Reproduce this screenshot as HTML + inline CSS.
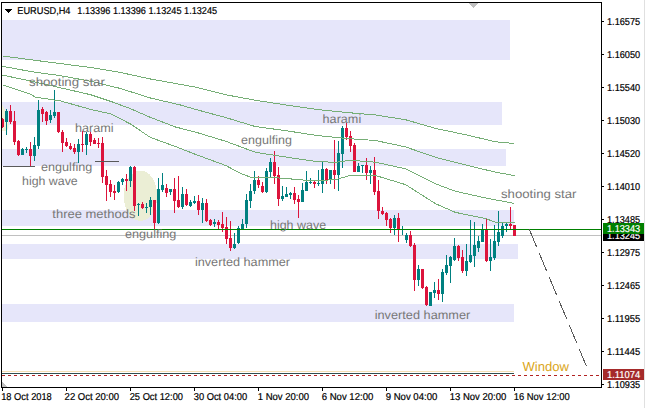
<!DOCTYPE html>
<html><head><meta charset="utf-8"><style>
html,body{margin:0;padding:0;background:#fff;width:645px;height:408px;overflow:hidden}
svg{display:block}
text{font-family:"Liberation Sans",sans-serif;white-space:pre;text-rendering:geometricPrecision}
</style></head><body>
<svg width="645" height="408" viewBox="0 0 645 408" shape-rendering="crispEdges">
<rect x="2" y="20" width="508" height="40" fill="#E6E6FA" />
<rect x="2" y="102" width="500" height="23" fill="#E6E6FA" />
<rect x="2" y="149" width="504" height="17" fill="#E6E6FA" />
<rect x="2" y="210" width="512" height="16" fill="#E6E6FA" />
<rect x="2" y="244" width="516" height="15" fill="#E6E6FA" />
<rect x="2" y="304" width="512" height="18" fill="#E6E6FA" />
<ellipse cx="140.5" cy="195.7" rx="16.8" ry="25.2" fill="#EBEED5"/>
<path d="M2,104.5 Q7,112 8.5,122 Q9.5,129 6,131 L2,131 Z" fill="#F2F2D6" shape-rendering="auto"/>
<rect x="2" y="235" width="599" height="1" fill="#C0C0C0" />
<rect x="2" y="371" width="512" height="1" fill="#F5DEB3" />
<rect x="2" y="373" width="512" height="1" fill="#2F4F4F" />
<rect x="2" y="375" width="3" height="1" fill="#B22222" />
<rect x="8" y="375" width="3" height="1" fill="#B22222" />
<rect x="14" y="375" width="3" height="1" fill="#B22222" />
<rect x="20" y="375" width="3" height="1" fill="#B22222" />
<rect x="26" y="375" width="3" height="1" fill="#B22222" />
<rect x="32" y="375" width="3" height="1" fill="#B22222" />
<rect x="38" y="375" width="3" height="1" fill="#B22222" />
<rect x="44" y="375" width="3" height="1" fill="#B22222" />
<rect x="50" y="375" width="3" height="1" fill="#B22222" />
<rect x="56" y="375" width="3" height="1" fill="#B22222" />
<rect x="62" y="375" width="3" height="1" fill="#B22222" />
<rect x="68" y="375" width="3" height="1" fill="#B22222" />
<rect x="74" y="375" width="3" height="1" fill="#B22222" />
<rect x="80" y="375" width="3" height="1" fill="#B22222" />
<rect x="86" y="375" width="3" height="1" fill="#B22222" />
<rect x="92" y="375" width="3" height="1" fill="#B22222" />
<rect x="98" y="375" width="3" height="1" fill="#B22222" />
<rect x="104" y="375" width="3" height="1" fill="#B22222" />
<rect x="110" y="375" width="3" height="1" fill="#B22222" />
<rect x="116" y="375" width="3" height="1" fill="#B22222" />
<rect x="122" y="375" width="3" height="1" fill="#B22222" />
<rect x="128" y="375" width="3" height="1" fill="#B22222" />
<rect x="134" y="375" width="3" height="1" fill="#B22222" />
<rect x="140" y="375" width="3" height="1" fill="#B22222" />
<rect x="146" y="375" width="3" height="1" fill="#B22222" />
<rect x="152" y="375" width="3" height="1" fill="#B22222" />
<rect x="158" y="375" width="3" height="1" fill="#B22222" />
<rect x="164" y="375" width="3" height="1" fill="#B22222" />
<rect x="170" y="375" width="3" height="1" fill="#B22222" />
<rect x="176" y="375" width="3" height="1" fill="#B22222" />
<rect x="182" y="375" width="3" height="1" fill="#B22222" />
<rect x="188" y="375" width="3" height="1" fill="#B22222" />
<rect x="194" y="375" width="3" height="1" fill="#B22222" />
<rect x="200" y="375" width="3" height="1" fill="#B22222" />
<rect x="206" y="375" width="3" height="1" fill="#B22222" />
<rect x="212" y="375" width="3" height="1" fill="#B22222" />
<rect x="218" y="375" width="3" height="1" fill="#B22222" />
<rect x="224" y="375" width="3" height="1" fill="#B22222" />
<rect x="230" y="375" width="3" height="1" fill="#B22222" />
<rect x="236" y="375" width="3" height="1" fill="#B22222" />
<rect x="242" y="375" width="3" height="1" fill="#B22222" />
<rect x="248" y="375" width="3" height="1" fill="#B22222" />
<rect x="254" y="375" width="3" height="1" fill="#B22222" />
<rect x="260" y="375" width="3" height="1" fill="#B22222" />
<rect x="266" y="375" width="3" height="1" fill="#B22222" />
<rect x="272" y="375" width="3" height="1" fill="#B22222" />
<rect x="278" y="375" width="3" height="1" fill="#B22222" />
<rect x="284" y="375" width="3" height="1" fill="#B22222" />
<rect x="290" y="375" width="3" height="1" fill="#B22222" />
<rect x="296" y="375" width="3" height="1" fill="#B22222" />
<rect x="302" y="375" width="3" height="1" fill="#B22222" />
<rect x="308" y="375" width="3" height="1" fill="#B22222" />
<rect x="314" y="375" width="3" height="1" fill="#B22222" />
<rect x="320" y="375" width="3" height="1" fill="#B22222" />
<rect x="326" y="375" width="3" height="1" fill="#B22222" />
<rect x="332" y="375" width="3" height="1" fill="#B22222" />
<rect x="338" y="375" width="3" height="1" fill="#B22222" />
<rect x="344" y="375" width="3" height="1" fill="#B22222" />
<rect x="350" y="375" width="3" height="1" fill="#B22222" />
<rect x="356" y="375" width="3" height="1" fill="#B22222" />
<rect x="362" y="375" width="3" height="1" fill="#B22222" />
<rect x="368" y="375" width="3" height="1" fill="#B22222" />
<rect x="374" y="375" width="3" height="1" fill="#B22222" />
<rect x="380" y="375" width="3" height="1" fill="#B22222" />
<rect x="386" y="375" width="3" height="1" fill="#B22222" />
<rect x="392" y="375" width="3" height="1" fill="#B22222" />
<rect x="398" y="375" width="3" height="1" fill="#B22222" />
<rect x="404" y="375" width="3" height="1" fill="#B22222" />
<rect x="410" y="375" width="3" height="1" fill="#B22222" />
<rect x="416" y="375" width="3" height="1" fill="#B22222" />
<rect x="422" y="375" width="3" height="1" fill="#B22222" />
<rect x="428" y="375" width="3" height="1" fill="#B22222" />
<rect x="434" y="375" width="3" height="1" fill="#B22222" />
<rect x="440" y="375" width="3" height="1" fill="#B22222" />
<rect x="446" y="375" width="3" height="1" fill="#B22222" />
<rect x="452" y="375" width="3" height="1" fill="#B22222" />
<rect x="458" y="375" width="3" height="1" fill="#B22222" />
<rect x="464" y="375" width="3" height="1" fill="#B22222" />
<rect x="470" y="375" width="3" height="1" fill="#B22222" />
<rect x="476" y="375" width="3" height="1" fill="#B22222" />
<rect x="482" y="375" width="3" height="1" fill="#B22222" />
<rect x="488" y="375" width="3" height="1" fill="#B22222" />
<rect x="494" y="375" width="3" height="1" fill="#B22222" />
<rect x="500" y="375" width="3" height="1" fill="#B22222" />
<rect x="506" y="375" width="3" height="1" fill="#B22222" />
<rect x="512" y="375" width="3" height="1" fill="#B22222" />
<rect x="518" y="375" width="3" height="1" fill="#B22222" />
<rect x="524" y="375" width="3" height="1" fill="#B22222" />
<rect x="530" y="375" width="3" height="1" fill="#B22222" />
<rect x="536" y="375" width="3" height="1" fill="#B22222" />
<rect x="542" y="375" width="3" height="1" fill="#B22222" />
<rect x="548" y="375" width="3" height="1" fill="#B22222" />
<rect x="554" y="375" width="3" height="1" fill="#B22222" />
<rect x="560" y="375" width="3" height="1" fill="#B22222" />
<rect x="566" y="375" width="3" height="1" fill="#B22222" />
<rect x="572" y="375" width="3" height="1" fill="#B22222" />
<rect x="578" y="375" width="3" height="1" fill="#B22222" />
<rect x="584" y="375" width="3" height="1" fill="#B22222" />
<rect x="590" y="375" width="3" height="1" fill="#B22222" />
<rect x="596" y="375" width="3" height="1" fill="#B22222" />
<rect x="2" y="118" width="1" height="10" fill="#DC143C" />
<rect x="1" y="119" width="3" height="8" fill="#DC143C" />
<rect x="6" y="109" width="1" height="26" fill="#008080" />
<rect x="5" y="111" width="3" height="11" fill="#008080" />
<rect x="10" y="105" width="1" height="19" fill="#DC143C" />
<rect x="9" y="111" width="3" height="11" fill="#DC143C" />
<rect x="14" y="111" width="1" height="34" fill="#DC143C" />
<rect x="13" y="121" width="3" height="21" fill="#DC143C" />
<rect x="18" y="140" width="1" height="16" fill="#DC143C" />
<rect x="17" y="141" width="3" height="14" fill="#DC143C" />
<rect x="22" y="148" width="1" height="7" fill="#008080" />
<rect x="21" y="149" width="3" height="6" fill="#008080" />
<rect x="26" y="147" width="1" height="6" fill="#008080" />
<rect x="25" y="149" width="3" height="1" fill="#008080" />
<rect x="30" y="142" width="1" height="24" fill="#DC143C" />
<rect x="29" y="149" width="3" height="7" fill="#DC143C" />
<rect x="34" y="137" width="1" height="24" fill="#008080" />
<rect x="33" y="145" width="3" height="11" fill="#008080" />
<rect x="38" y="100" width="1" height="49" fill="#008080" />
<rect x="37" y="110" width="3" height="36" fill="#008080" />
<rect x="42" y="107" width="1" height="15" fill="#DC143C" />
<rect x="41" y="109" width="3" height="5" fill="#DC143C" />
<rect x="46" y="111" width="1" height="14" fill="#DC143C" />
<rect x="45" y="112" width="3" height="9" fill="#DC143C" />
<rect x="50" y="110" width="1" height="13" fill="#008080" />
<rect x="49" y="115" width="3" height="5" fill="#008080" />
<rect x="54" y="90" width="1" height="28" fill="#008080" />
<rect x="53" y="112" width="3" height="4" fill="#008080" />
<rect x="58" y="112" width="1" height="21" fill="#DC143C" />
<rect x="57" y="112" width="3" height="20" fill="#DC143C" />
<rect x="62" y="130" width="1" height="22" fill="#DC143C" />
<rect x="61" y="132" width="3" height="11" fill="#DC143C" />
<rect x="66" y="138" width="1" height="9" fill="#DC143C" />
<rect x="65" y="142" width="3" height="4" fill="#DC143C" />
<rect x="70" y="143" width="1" height="7" fill="#DC143C" />
<rect x="69" y="146" width="3" height="3" fill="#DC143C" />
<rect x="74" y="144" width="1" height="10" fill="#DC143C" />
<rect x="73" y="148" width="3" height="4" fill="#DC143C" />
<rect x="78" y="139" width="1" height="24" fill="#008080" />
<rect x="77" y="144" width="3" height="8" fill="#008080" />
<rect x="82" y="131" width="1" height="21" fill="#DC143C" />
<rect x="81" y="144" width="3" height="1" fill="#DC143C" />
<rect x="86" y="132" width="1" height="23" fill="#008080" />
<rect x="85" y="134" width="3" height="11" fill="#008080" />
<rect x="90" y="132" width="1" height="14" fill="#DC143C" />
<rect x="89" y="134" width="3" height="8" fill="#DC143C" />
<rect x="94" y="138" width="1" height="6" fill="#DC143C" />
<rect x="93" y="140" width="3" height="4" fill="#DC143C" />
<rect x="98" y="138" width="1" height="10" fill="#DC143C" />
<rect x="97" y="143" width="3" height="1" fill="#DC143C" />
<rect x="102" y="137" width="1" height="46" fill="#DC143C" />
<rect x="101" y="143" width="3" height="34" fill="#DC143C" />
<rect x="106" y="170" width="1" height="31" fill="#DC143C" />
<rect x="105" y="176" width="3" height="9" fill="#DC143C" />
<rect x="110" y="180" width="1" height="17" fill="#DC143C" />
<rect x="109" y="184" width="3" height="8" fill="#DC143C" />
<rect x="114" y="185" width="1" height="15" fill="#DC143C" />
<rect x="113" y="191" width="3" height="2" fill="#DC143C" />
<rect x="118" y="181" width="1" height="12" fill="#008080" />
<rect x="117" y="182" width="3" height="10" fill="#008080" />
<rect x="122" y="178" width="1" height="7" fill="#008080" />
<rect x="121" y="179" width="3" height="3" fill="#008080" />
<rect x="126" y="174" width="1" height="17" fill="#DC143C" />
<rect x="125" y="179" width="3" height="2" fill="#DC143C" />
<rect x="130" y="166" width="1" height="21" fill="#008080" />
<rect x="129" y="167" width="3" height="14" fill="#008080" />
<rect x="134" y="166" width="1" height="45" fill="#DC143C" />
<rect x="133" y="167" width="3" height="39" fill="#DC143C" />
<rect x="138" y="203" width="1" height="13" fill="#008080" />
<rect x="137" y="204" width="3" height="1" fill="#008080" />
<rect x="142" y="202" width="1" height="7" fill="#DC143C" />
<rect x="141" y="204" width="3" height="4" fill="#DC143C" />
<rect x="146" y="203" width="1" height="10" fill="#008080" />
<rect x="145" y="207" width="3" height="1" fill="#008080" />
<rect x="150" y="197" width="1" height="18" fill="#008080" />
<rect x="149" y="200" width="3" height="7" fill="#008080" />
<rect x="154" y="200" width="1" height="29" fill="#DC143C" />
<rect x="153" y="200" width="3" height="23" fill="#DC143C" />
<rect x="158" y="178" width="1" height="46" fill="#008080" />
<rect x="157" y="189" width="3" height="34" fill="#008080" />
<rect x="162" y="173" width="1" height="19" fill="#008080" />
<rect x="161" y="185" width="3" height="5" fill="#008080" />
<rect x="166" y="184" width="1" height="13" fill="#DC143C" />
<rect x="165" y="188" width="3" height="5" fill="#DC143C" />
<rect x="170" y="189" width="1" height="6" fill="#008080" />
<rect x="169" y="189" width="3" height="3" fill="#008080" />
<rect x="174" y="178" width="1" height="35" fill="#DC143C" />
<rect x="173" y="189" width="3" height="12" fill="#DC143C" />
<rect x="178" y="176" width="1" height="32" fill="#DC143C" />
<rect x="177" y="200" width="3" height="7" fill="#DC143C" />
<rect x="182" y="187" width="1" height="22" fill="#008080" />
<rect x="181" y="194" width="3" height="13" fill="#008080" />
<rect x="186" y="189" width="1" height="17" fill="#DC143C" />
<rect x="185" y="194" width="3" height="11" fill="#DC143C" />
<rect x="190" y="200" width="1" height="7" fill="#008080" />
<rect x="189" y="202" width="3" height="4" fill="#008080" />
<rect x="194" y="196" width="1" height="8" fill="#008080" />
<rect x="193" y="201" width="3" height="2" fill="#008080" />
<rect x="198" y="195" width="1" height="20" fill="#DC143C" />
<rect x="197" y="201" width="3" height="9" fill="#DC143C" />
<rect x="202" y="198" width="1" height="25" fill="#008080" />
<rect x="201" y="203" width="3" height="7" fill="#008080" />
<rect x="206" y="199" width="1" height="23" fill="#DC143C" />
<rect x="205" y="203" width="3" height="18" fill="#DC143C" />
<rect x="210" y="219" width="1" height="7" fill="#DC143C" />
<rect x="209" y="220" width="3" height="5" fill="#DC143C" />
<rect x="214" y="219" width="1" height="8" fill="#008080" />
<rect x="213" y="222" width="3" height="2" fill="#008080" />
<rect x="218" y="220" width="1" height="9" fill="#DC143C" />
<rect x="217" y="222" width="3" height="3" fill="#DC143C" />
<rect x="222" y="212" width="1" height="20" fill="#DC143C" />
<rect x="221" y="224" width="3" height="4" fill="#DC143C" />
<rect x="226" y="217" width="1" height="27" fill="#DC143C" />
<rect x="225" y="227" width="3" height="12" fill="#DC143C" />
<rect x="230" y="221" width="1" height="30" fill="#DC143C" />
<rect x="229" y="238" width="3" height="10" fill="#DC143C" />
<rect x="234" y="233" width="1" height="16" fill="#008080" />
<rect x="233" y="244" width="3" height="4" fill="#008080" />
<rect x="238" y="226" width="1" height="18" fill="#008080" />
<rect x="237" y="228" width="3" height="15" fill="#008080" />
<rect x="242" y="219" width="1" height="11" fill="#008080" />
<rect x="241" y="224" width="3" height="5" fill="#008080" />
<rect x="246" y="194" width="1" height="34" fill="#008080" />
<rect x="245" y="200" width="3" height="24" fill="#008080" />
<rect x="250" y="184" width="1" height="24" fill="#008080" />
<rect x="249" y="191" width="3" height="10" fill="#008080" />
<rect x="254" y="171" width="1" height="23" fill="#008080" />
<rect x="253" y="180" width="3" height="11" fill="#008080" />
<rect x="258" y="176" width="1" height="12" fill="#DC143C" />
<rect x="257" y="180" width="3" height="5" fill="#DC143C" />
<rect x="262" y="182" width="1" height="11" fill="#DC143C" />
<rect x="261" y="186" width="3" height="6" fill="#DC143C" />
<rect x="266" y="168" width="1" height="25" fill="#008080" />
<rect x="265" y="171" width="3" height="21" fill="#008080" />
<rect x="270" y="158" width="1" height="19" fill="#008080" />
<rect x="269" y="162" width="3" height="10" fill="#008080" />
<rect x="274" y="151" width="1" height="33" fill="#DC143C" />
<rect x="273" y="162" width="3" height="14" fill="#DC143C" />
<rect x="278" y="167" width="1" height="39" fill="#DC143C" />
<rect x="277" y="175" width="3" height="24" fill="#DC143C" />
<rect x="282" y="186" width="1" height="15" fill="#008080" />
<rect x="281" y="196" width="3" height="3" fill="#008080" />
<rect x="286" y="187" width="1" height="10" fill="#008080" />
<rect x="285" y="194" width="3" height="3" fill="#008080" />
<rect x="290" y="192" width="1" height="7" fill="#008080" />
<rect x="289" y="193" width="3" height="2" fill="#008080" />
<rect x="294" y="187" width="1" height="17" fill="#DC143C" />
<rect x="293" y="193" width="3" height="7" fill="#DC143C" />
<rect x="298" y="195" width="1" height="23" fill="#DC143C" />
<rect x="297" y="199" width="3" height="3" fill="#DC143C" />
<rect x="302" y="183" width="1" height="19" fill="#008080" />
<rect x="301" y="190" width="3" height="12" fill="#008080" />
<rect x="306" y="171" width="1" height="20" fill="#008080" />
<rect x="305" y="182" width="3" height="9" fill="#008080" />
<rect x="310" y="178" width="1" height="6" fill="#008080" />
<rect x="309" y="182" width="3" height="1" fill="#008080" />
<rect x="314" y="181" width="1" height="7" fill="#DC143C" />
<rect x="313" y="182" width="3" height="2" fill="#DC143C" />
<rect x="318" y="170" width="1" height="16" fill="#008080" />
<rect x="317" y="183" width="3" height="1" fill="#008080" />
<rect x="322" y="161" width="1" height="32" fill="#008080" />
<rect x="321" y="169" width="3" height="15" fill="#008080" />
<rect x="326" y="168" width="1" height="16" fill="#DC143C" />
<rect x="325" y="169" width="3" height="11" fill="#DC143C" />
<rect x="330" y="170" width="1" height="14" fill="#008080" />
<rect x="329" y="170" width="3" height="10" fill="#008080" />
<rect x="334" y="140" width="1" height="49" fill="#DC143C" />
<rect x="333" y="170" width="3" height="5" fill="#DC143C" />
<rect x="338" y="141" width="1" height="50" fill="#008080" />
<rect x="337" y="153" width="3" height="22" fill="#008080" />
<rect x="342" y="126" width="1" height="42" fill="#008080" />
<rect x="341" y="128" width="3" height="26" fill="#008080" />
<rect x="346" y="123" width="1" height="17" fill="#DC143C" />
<rect x="345" y="128" width="3" height="9" fill="#DC143C" />
<rect x="350" y="131" width="1" height="21" fill="#DC143C" />
<rect x="349" y="136" width="3" height="10" fill="#DC143C" />
<rect x="354" y="143" width="1" height="29" fill="#DC143C" />
<rect x="353" y="145" width="3" height="27" fill="#DC143C" />
<rect x="358" y="163" width="1" height="9" fill="#008080" />
<rect x="357" y="166" width="3" height="6" fill="#008080" />
<rect x="362" y="165" width="1" height="8" fill="#008080" />
<rect x="361" y="165" width="3" height="1" fill="#008080" />
<rect x="366" y="158" width="1" height="22" fill="#DC143C" />
<rect x="365" y="165" width="3" height="8" fill="#DC143C" />
<rect x="370" y="166" width="1" height="18" fill="#008080" />
<rect x="369" y="170" width="3" height="3" fill="#008080" />
<rect x="374" y="157" width="1" height="38" fill="#DC143C" />
<rect x="373" y="170" width="3" height="22" fill="#DC143C" />
<rect x="378" y="180" width="1" height="39" fill="#DC143C" />
<rect x="377" y="191" width="3" height="20" fill="#DC143C" />
<rect x="382" y="207" width="1" height="8" fill="#DC143C" />
<rect x="381" y="211" width="3" height="3" fill="#DC143C" />
<rect x="386" y="212" width="1" height="14" fill="#DC143C" />
<rect x="385" y="213" width="3" height="7" fill="#DC143C" />
<rect x="390" y="218" width="1" height="15" fill="#DC143C" />
<rect x="389" y="219" width="3" height="9" fill="#DC143C" />
<rect x="394" y="215" width="1" height="20" fill="#008080" />
<rect x="393" y="218" width="3" height="10" fill="#008080" />
<rect x="398" y="213" width="1" height="29" fill="#DC143C" />
<rect x="397" y="218" width="3" height="12" fill="#DC143C" />
<rect x="402" y="226" width="1" height="9" fill="#008080" />
<rect x="401" y="229" width="3" height="1" fill="#008080" />
<rect x="406" y="233" width="1" height="10" fill="#008080" />
<rect x="405" y="235" width="3" height="5" fill="#008080" />
<rect x="410" y="231" width="1" height="16" fill="#DC143C" />
<rect x="409" y="235" width="3" height="11" fill="#DC143C" />
<rect x="414" y="243" width="1" height="48" fill="#DC143C" />
<rect x="413" y="245" width="3" height="35" fill="#DC143C" />
<rect x="418" y="265" width="1" height="21" fill="#008080" />
<rect x="417" y="269" width="3" height="11" fill="#008080" />
<rect x="422" y="269" width="1" height="20" fill="#DC143C" />
<rect x="421" y="269" width="3" height="19" fill="#DC143C" />
<rect x="426" y="286" width="1" height="20" fill="#DC143C" />
<rect x="425" y="287" width="3" height="18" fill="#DC143C" />
<rect x="430" y="292" width="1" height="14" fill="#008080" />
<rect x="429" y="292" width="3" height="14" fill="#008080" />
<rect x="434" y="282" width="1" height="16" fill="#008080" />
<rect x="433" y="290" width="3" height="3" fill="#008080" />
<rect x="438" y="279" width="1" height="21" fill="#DC143C" />
<rect x="437" y="290" width="3" height="4" fill="#DC143C" />
<rect x="442" y="269" width="1" height="33" fill="#008080" />
<rect x="441" y="272" width="3" height="22" fill="#008080" />
<rect x="446" y="255" width="1" height="20" fill="#008080" />
<rect x="445" y="265" width="3" height="8" fill="#008080" />
<rect x="450" y="256" width="1" height="27" fill="#008080" />
<rect x="449" y="257" width="3" height="9" fill="#008080" />
<rect x="454" y="238" width="1" height="23" fill="#008080" />
<rect x="453" y="246" width="3" height="14" fill="#008080" />
<rect x="458" y="245" width="1" height="16" fill="#DC143C" />
<rect x="457" y="246" width="3" height="12" fill="#DC143C" />
<rect x="462" y="250" width="1" height="23" fill="#DC143C" />
<rect x="461" y="257" width="3" height="14" fill="#DC143C" />
<rect x="466" y="244" width="1" height="32" fill="#008080" />
<rect x="465" y="261" width="3" height="10" fill="#008080" />
<rect x="470" y="220" width="1" height="43" fill="#008080" />
<rect x="469" y="255" width="3" height="7" fill="#008080" />
<rect x="474" y="222" width="1" height="45" fill="#008080" />
<rect x="473" y="245" width="3" height="11" fill="#008080" />
<rect x="478" y="236" width="1" height="16" fill="#008080" />
<rect x="477" y="241" width="3" height="7" fill="#008080" />
<rect x="482" y="224" width="1" height="18" fill="#008080" />
<rect x="481" y="230" width="3" height="12" fill="#008080" />
<rect x="486" y="218" width="1" height="44" fill="#DC143C" />
<rect x="485" y="230" width="3" height="31" fill="#DC143C" />
<rect x="490" y="239" width="1" height="32" fill="#008080" />
<rect x="489" y="257" width="3" height="4" fill="#008080" />
<rect x="494" y="225" width="1" height="35" fill="#008080" />
<rect x="493" y="241" width="3" height="17" fill="#008080" />
<rect x="498" y="211" width="1" height="35" fill="#008080" />
<rect x="497" y="232" width="3" height="10" fill="#008080" />
<rect x="502" y="223" width="1" height="15" fill="#008080" />
<rect x="501" y="226" width="3" height="10" fill="#008080" />
<rect x="506" y="223" width="1" height="9" fill="#008080" />
<rect x="505" y="224" width="3" height="2" fill="#008080" />
<rect x="510" y="207" width="1" height="22" fill="#DC143C" />
<rect x="509" y="224" width="3" height="2" fill="#DC143C" />
<rect x="514" y="225" width="1" height="11" fill="#DC143C" />
<rect x="513" y="225" width="3" height="11" fill="#DC143C" />
<polyline points="2.5,56 30.5,59.7 60.5,63.6 90.5,67.5 120.5,72.5 150.5,79 180.5,84.4 195.5,87.1 225.5,94.7 255.5,100.3 285.5,104.9 315.5,109.3 345.5,112.4 375.5,115 405.5,119.7 435.5,128.4 465.5,134.7 495.5,141.8 514.5,143.5" fill="none" stroke="#76AE76" stroke-width="1"/>
<polyline points="2.5,66.3 30.5,71.5 60.5,75.7 90.5,81.2 120.5,88.5 150.5,98 180.5,105 195.5,109.4 225.5,117.5 255.5,126.6 285.5,130.6 315.5,135.3 345.5,138.4 375.5,140.5 405.5,146.9 435.5,157.3 465.5,164.9 495.5,172.2 514.5,175.6" fill="none" stroke="#76AE76" stroke-width="1"/>
<polyline points="2.5,75.1 30.5,81 60.5,87.8 90.5,94.7 112.5,102 130.5,108.7 150.5,117.4 175.5,127 195.5,132.1 225.5,141.2 255.5,152.3 285.5,157 315.5,161.4 335.5,162.4 350.5,160.3 375.5,162.2 405.5,168.8 435.5,183.8 455.5,191.3 485.5,197.9 514.5,203.5" fill="none" stroke="#76AE76" stroke-width="1"/>
<polyline points="2.5,84.7 30.5,94.3 35.5,97.2 60.5,100.9 90.5,109.4 110.5,113.8 130.5,124 150.5,137.5 175.5,146.5 195.5,154.4 225.5,165.4 240.5,173.3 250.5,177.2 285.5,178.2 297.5,179.8 315.5,180.5 335.5,179.7 350.5,175.3 375.5,175.5 405.5,184.6 435.5,203.7 455.5,212.4 485.5,218.5 495.5,222.2 514.5,222.2" fill="none" stroke="#76AE76" stroke-width="1"/>
<rect x="2" y="229" width="599" height="1" fill="#008000" />
<rect x="3" y="166" width="32" height="1" fill="#5A5A5A" />
<rect x="95" y="161" width="24" height="1" fill="#5A5A5A" />
<line x1="529.3" y1="229.4" x2="586.5" y2="366.5" stroke="#5A5A5A" stroke-width="1" stroke-dasharray="18.6,7.4"/>
<text x="29.0" y="86" font-size="12" fill="#777777" textLength="75.9" lengthAdjust="spacingAndGlyphs" >shooting star</text>
<text x="74.9" y="132" font-size="12" fill="#777777" textLength="38.8" lengthAdjust="spacingAndGlyphs" >harami</text>
<text x="41.0" y="171" font-size="12" fill="#777777" textLength="51.3" lengthAdjust="spacingAndGlyphs" >engulfing</text>
<text x="22.0" y="184.5" font-size="12" fill="#777777" textLength="55.7" lengthAdjust="spacingAndGlyphs" >high wave</text>
<text x="52.3" y="218" font-size="12" fill="#777777" textLength="83.1" lengthAdjust="spacingAndGlyphs" >three methods</text>
<text x="125.0" y="238" font-size="12" fill="#777777" textLength="51.4" lengthAdjust="spacingAndGlyphs" >engulfing</text>
<text x="241.1" y="144" font-size="12" fill="#777777" textLength="50.8" lengthAdjust="spacingAndGlyphs" >engulfing</text>
<text x="322.59999999999997" y="122.7" font-size="12" fill="#777777" textLength="38.6" lengthAdjust="spacingAndGlyphs" >harami</text>
<text x="270.0" y="228.7" font-size="12" fill="#777777" textLength="56.1" lengthAdjust="spacingAndGlyphs" >high wave</text>
<text x="194.9" y="265.5" font-size="12" fill="#777777" textLength="95.2" lengthAdjust="spacingAndGlyphs" >inverted hammer</text>
<text x="374.7" y="319" font-size="12" fill="#777777" textLength="95.6" lengthAdjust="spacingAndGlyphs" >inverted hammer</text>
<text x="501.0" y="197.7" font-size="12" fill="#777777" textLength="75.5" lengthAdjust="spacingAndGlyphs" >shooting star</text>
<text x="522.5" y="371.3" font-size="13" fill="#DAA520" textLength="46.5" lengthAdjust="spacingAndGlyphs" >Window</text>
<rect x="1.5" y="2.5" width="600" height="385" fill="none" stroke="#000" stroke-width="1"/>
<rect x="644" y="0" width="1" height="408" fill="#E0E0E0" />
<polygon points="469,3 478,3 473.5,8" fill="#C0C0C0"/>
<polygon points="2,382 2,387 7,387" fill="#C0C0C0"/>
<polygon points="5,9 12,9 8.5,13" fill="#000"/>
<text x="17.3" y="14" font-size="10" fill="#000" textLength="53.2" lengthAdjust="spacingAndGlyphs" stroke="#000" stroke-width="0.2">EURUSD,H4</text>
<text x="77.3" y="14" font-size="10" fill="#000" textLength="139.8" lengthAdjust="spacingAndGlyphs" stroke="#000" stroke-width="0.2">1.13396 1.13396 1.13245 1.13245</text>
<rect x="602" y="21" width="2" height="1" fill="#000" />
<text x="607" y="25" font-size="10" fill="#000" textLength="33.2" lengthAdjust="spacingAndGlyphs" stroke="#000" stroke-width="0.2">1.16575</text>
<rect x="602" y="54" width="2" height="1" fill="#000" />
<text x="607" y="58" font-size="10" fill="#000" textLength="33.2" lengthAdjust="spacingAndGlyphs" stroke="#000" stroke-width="0.2">1.16050</text>
<rect x="602" y="87" width="2" height="1" fill="#000" />
<text x="607" y="91" font-size="10" fill="#000" textLength="33.2" lengthAdjust="spacingAndGlyphs" stroke="#000" stroke-width="0.2">1.15540</text>
<rect x="602" y="120" width="2" height="1" fill="#000" />
<text x="607" y="124" font-size="10" fill="#000" textLength="33.2" lengthAdjust="spacingAndGlyphs" stroke="#000" stroke-width="0.2">1.15030</text>
<rect x="602" y="153" width="2" height="1" fill="#000" />
<text x="607" y="157" font-size="10" fill="#000" textLength="33.2" lengthAdjust="spacingAndGlyphs" stroke="#000" stroke-width="0.2">1.14520</text>
<rect x="602" y="186" width="2" height="1" fill="#000" />
<text x="607" y="190" font-size="10" fill="#000" textLength="33.2" lengthAdjust="spacingAndGlyphs" stroke="#000" stroke-width="0.2">1.14010</text>
<rect x="602" y="219" width="2" height="1" fill="#000" />
<text x="607" y="223" font-size="10" fill="#000" textLength="33.2" lengthAdjust="spacingAndGlyphs" stroke="#000" stroke-width="0.2">1.13485</text>
<rect x="602" y="252" width="2" height="1" fill="#000" />
<text x="607" y="256" font-size="10" fill="#000" textLength="33.2" lengthAdjust="spacingAndGlyphs" stroke="#000" stroke-width="0.2">1.12975</text>
<rect x="602" y="285" width="2" height="1" fill="#000" />
<text x="607" y="289" font-size="10" fill="#000" textLength="33.2" lengthAdjust="spacingAndGlyphs" stroke="#000" stroke-width="0.2">1.12465</text>
<rect x="602" y="318" width="2" height="1" fill="#000" />
<text x="607" y="322" font-size="10" fill="#000" textLength="33.2" lengthAdjust="spacingAndGlyphs" stroke="#000" stroke-width="0.2">1.11955</text>
<rect x="602" y="351" width="2" height="1" fill="#000" />
<text x="607" y="355" font-size="10" fill="#000" textLength="33.2" lengthAdjust="spacingAndGlyphs" stroke="#000" stroke-width="0.2">1.11445</text>
<rect x="602" y="384" width="2" height="1" fill="#000" />
<text x="607" y="388" font-size="10" fill="#000" textLength="33.2" lengthAdjust="spacingAndGlyphs" stroke="#000" stroke-width="0.2">1.10935</text>
<rect x="603" y="230" width="41" height="11" fill="#000" />
<text x="607" y="239" font-size="10" fill="#FFF" textLength="33.2" lengthAdjust="spacingAndGlyphs" stroke="#FFF" stroke-width="0.2">1.13245</text>
<rect x="603" y="223" width="41" height="11" fill="#008000" />
<text x="607" y="232" font-size="10" fill="#FFF" textLength="33.2" lengthAdjust="spacingAndGlyphs" stroke="#FFF" stroke-width="0.2">1.13343</text>
<rect x="603" y="369" width="41" height="11" fill="#A52A2A" />
<text x="607" y="378" font-size="10" fill="#FFF" textLength="33.2" lengthAdjust="spacingAndGlyphs" stroke="#FFF" stroke-width="0.2">1.11074</text>
<rect x="2" y="388" width="1" height="3" fill="#000" />
<text x="1.2" y="400" font-size="10" fill="#000" textLength="50.6" lengthAdjust="spacingAndGlyphs" stroke="#000" stroke-width="0.2">18 Oct 2018</text>
<rect x="66" y="388" width="1" height="3" fill="#000" />
<text x="64.60000000000001" y="400" font-size="10" fill="#000" textLength="54.5" lengthAdjust="spacingAndGlyphs" stroke="#000" stroke-width="0.2">22 Oct 20:00</text>
<rect x="130" y="388" width="1" height="3" fill="#000" />
<text x="129.7" y="400" font-size="10" fill="#000" textLength="53.3" lengthAdjust="spacingAndGlyphs" stroke="#000" stroke-width="0.2">25 Oct 12:00</text>
<rect x="194" y="388" width="1" height="3" fill="#000" />
<text x="193.7" y="400" font-size="10" fill="#000" textLength="53.5" lengthAdjust="spacingAndGlyphs" stroke="#000" stroke-width="0.2">30 Oct 04:00</text>
<rect x="258" y="388" width="1" height="3" fill="#000" />
<text x="257.7" y="400" font-size="10" fill="#000" textLength="51.4" lengthAdjust="spacingAndGlyphs" stroke="#000" stroke-width="0.2">1 Nov 20:00</text>
<rect x="322" y="388" width="1" height="3" fill="#000" />
<text x="321.7" y="400" font-size="10" fill="#000" textLength="51.6" lengthAdjust="spacingAndGlyphs" stroke="#000" stroke-width="0.2">6 Nov 12:00</text>
<rect x="386" y="388" width="1" height="3" fill="#000" />
<text x="385.7" y="400" font-size="10" fill="#000" textLength="51.6" lengthAdjust="spacingAndGlyphs" stroke="#000" stroke-width="0.2">9 Nov 04:00</text>
<rect x="450" y="388" width="1" height="3" fill="#000" />
<text x="449.7" y="400" font-size="10" fill="#000" textLength="56.6" lengthAdjust="spacingAndGlyphs" stroke="#000" stroke-width="0.2">13 Nov 20:00</text>
<rect x="514" y="388" width="1" height="3" fill="#000" />
<text x="513.7" y="400" font-size="10" fill="#000" textLength="56.1" lengthAdjust="spacingAndGlyphs" stroke="#000" stroke-width="0.2">16 Nov 12:00</text>
</svg>
</body></html>
